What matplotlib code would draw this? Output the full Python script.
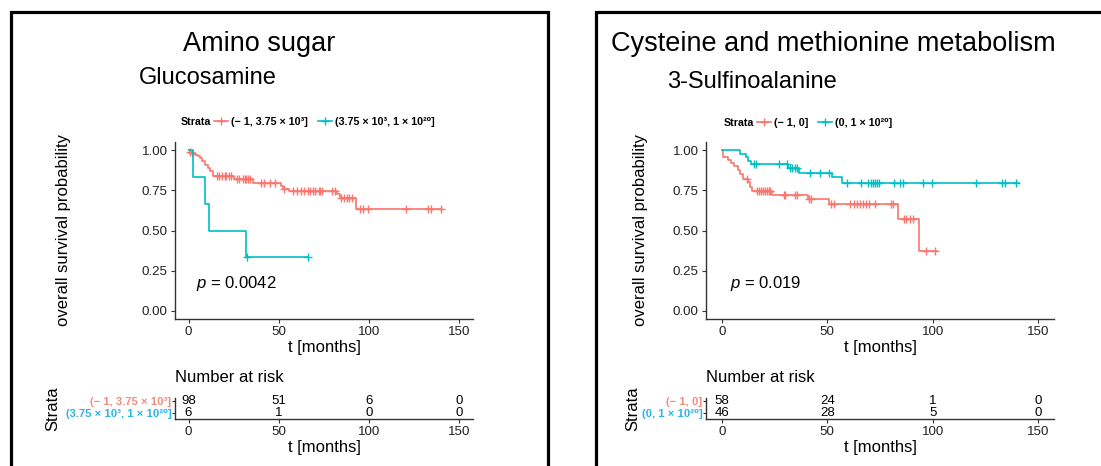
import matplotlib
matplotlib.use("Agg")
import matplotlib.pyplot as plt
import matplotlib.patches as mpatches
from matplotlib.lines import Line2D
import numpy as np

plt.rcParams['font.family'] = ['Liberation Sans', 'DejaVu Sans']
plt.rcParams['mathtext.fontset'] = 'custom'
plt.rcParams['mathtext.rm'] = 'Liberation Sans'
plt.rcParams['mathtext.it'] = 'Liberation Sans:italic'

W, H = 1101, 466

RED = '#F8766D'
TEAL = '#00BFC4'
RED_TXT = '#F28C7E'
BLUE_TXT = '#2BB4E6'

# ---- Amino sugar / Glucosamine
gl_labels = ['(\u2212 1, 3.75 \u00d7 10\u00b3]', '(3.75 \u00d7 10\u00b3, 1 \u00d7 10\u00b2\u2070]']
gl_lo_t = [0, 1, 2, 3.5, 5, 6.5, 7.5, 9, 10.5, 12, 13.5, 25, 35.5, 51, 52.5, 55.5, 82, 84, 92.5]
gl_lo_s = [1.0, 0.99, 0.98, 0.97, 0.96, 0.95, 0.93, 0.91, 0.89, 0.87, 0.84, 0.823, 0.798,
           0.777, 0.757, 0.745, 0.725, 0.705, 0.632]
gl_lo_end = 140
gl_lo_cens = [1, 2, 16, 17, 18.5, 20, 21, 22.5, 23.5, 27, 28, 30, 31, 32, 33, 34, 40, 42, 45, 48,
              53, 58, 60, 62, 64, 66, 67, 69, 70, 72, 73, 74, 79.5, 81, 84.5, 86, 87.5, 89, 90.5,
              95, 96.5, 99.5, 120.5, 132.5, 134.5, 140]
gl_hi_t = [0, 2.2, 9.2, 11.4, 31.7]
gl_hi_s = [1.0, 0.833, 0.667, 0.5, 0.333]
gl_hi_end = 66
gl_hi_cens = [32.5, 66]
gl_pval = '$p$ = 0.0042'
gl_risk_lo = [98, 51, 6, 0]
gl_risk_hi = [6, 1, 0, 0]

# ---- Cysteine and methionine metabolism / 3-Sulfinoalanine
su_labels = ['(\u2212 1, 0]', '(0, 1 \u00d7 10\u00b2\u2070]']
su_lo_t = [0, 0.5, 3, 4.5, 6, 7.5, 8.7, 10, 12.5, 13.5, 14.5, 23.8, 41, 51, 83.3, 93.3]
su_lo_s = [1.0, 0.957, 0.94, 0.92, 0.90, 0.875, 0.85, 0.82, 0.80, 0.77, 0.745, 0.72, 0.695,
           0.665, 0.569, 0.375]
su_lo_end = 102
su_lo_cens = [12, 16.5, 17.5, 18.5, 19.5, 20.5, 21.5, 22.5, 23, 29.3, 30, 34.8, 35.6, 41.5, 42.4,
              52, 53, 61, 62.5, 64, 65.5, 67, 68.5, 70, 72.5, 80, 81.4, 86.2, 87.5, 89, 90.8,
              97, 101.2]
su_hi_t = [0, 8.4, 11.5, 12.5, 14, 31.6, 36.8, 52.2, 57]
su_hi_s = [1.0, 0.978, 0.957, 0.935, 0.913, 0.888, 0.86, 0.83, 0.798]
su_hi_end = 141
su_hi_cens = [15.3, 16, 27, 30.8, 32.4, 33.5, 34.5, 35.5, 42, 46.6, 50.6, 59.3, 66, 69.5, 70.5,
              71.5, 72.5, 73.5, 74.4, 81.5, 84.5, 86, 95.5, 99.7, 120.7, 132.9, 134.5, 139.7]
su_pval = '$p$ = 0.019'
su_risk_lo = [58, 24, 1, 0]
su_risk_hi = [46, 28, 5, 0]

risk_times = [0, 50, 100, 150]


def px_rect(l, t, r, b):
    return [l / W, 1 - b / H, (r - l) / W, (b - t) / H]


def km(ax, t, s, end, cens, color):
    t = np.array(t, dtype=float)
    s = np.array(s, dtype=float)
    ax.step(np.append(t, end), np.append(s, s[-1]), where='post', color=color, lw=1.2)
    idx = np.searchsorted(t, cens, side='right') - 1
    ax.plot(cens, s[idx], ls='none', marker='+', ms=6, mew=1.0, color=color)


def style_axes(ax):
    for sp in ['top', 'right']:
        ax.spines[sp].set_visible(False)
    for sp in ['left', 'bottom']:
        ax.spines[sp].set_color('#333333')
        ax.spines[sp].set_linewidth(1.0)
    ax.tick_params(length=3, width=0.8, color='#333333', labelsize=9.6,
                   labelcolor='#222222', pad=2.2)


fig = plt.figure(figsize=(W / 100, H / 100), dpi=100, facecolor='white')

# panel frames
fig.patches.append(mpatches.Rectangle((11 / W, -0.1), (548 - 11) / W, 1.1 - 12 / H,
                                      transform=fig.transFigure, fill=False,
                                      ec='black', lw=2.3))
fig.patches.append(mpatches.Rectangle((596 / W, -0.1), (1130 - 596) / W, 1.1 - 12 / H,
                                      transform=fig.transFigure, fill=False,
                                      ec='black', lw=2.3))

specs = [
    dict(l=175, r=473, lo=(gl_lo_t, gl_lo_s, gl_lo_end, gl_lo_cens),
         hi=(gl_hi_t, gl_hi_s, gl_hi_end, gl_hi_cens), labels=gl_labels, pval=gl_pval,
         risk_lo=gl_risk_lo, risk_hi=gl_risk_hi, ylab_x=71, strata_x=60,
         title='Amino sugar', title_x=259, title_ha='center', sub='Glucosamine',
         sub_x=139, sub_y=78, leg_x=181, leg_y=122),
    dict(l=706, r=1054, lo=(su_lo_t, su_lo_s, su_lo_end, su_lo_cens),
         hi=(su_hi_t, su_hi_s, su_hi_end, su_hi_cens), labels=su_labels, pval=su_pval,
         risk_lo=su_risk_lo, risk_hi=su_risk_hi, ylab_x=648, strata_x=640,
         title='Cysteine and methionine metabolism', title_x=611, title_ha='left',
         sub='3-Sulfinoalanine', sub_x=667, sub_y=82, leg_x=724, leg_y=123),
]

for sp in specs:
    l, r = sp['l'], sp['r']
    ax = fig.add_axes(px_rect(l, 142, r, 319))
    km(ax, *sp['lo'], RED)
    km(ax, *sp['hi'], TEAL)
    ax.set_xlim(-7.5, 157.5)
    ax.set_ylim(-0.05, 1.05)
    ax.set_xticks(risk_times)
    ax.set_yticks([0, 0.25, 0.5, 0.75, 1.0])
    ax.set_yticklabels(['0.00', '0.25', '0.50', '0.75', '1.00'])
    style_axes(ax)
    ax.set_xlabel('t [months]', fontsize=12, labelpad=1)
    ax.set_ylabel('overall survival probability', fontsize=12)
    ax.yaxis.set_label_coords((sp['ylab_x'] - l) / (r - l), 0.5)
    ax.text(4, 0.17, sp['pval'], fontsize=12, ha='left', va='center')

    # titles
    fig.text(sp['title_x'] / W, 1 - 44 / H, sp['title'], fontsize=19.5,
             ha=sp['title_ha'], va='center')
    fig.text(sp['sub_x'] / W, 1 - sp['sub_y'] / H, sp['sub'], fontsize=17,
             ha='left', va='center')

    # legend
    fig.text(sp['leg_x'] / W, 1 - sp['leg_y'] / H, 'Strata', fontsize=7.7,
             fontweight='bold', ha='left', va='center')
    handles = [Line2D([], [], color=RED, lw=1.2, marker='+', ms=6, mew=1.0),
               Line2D([], [], color=TEAL, lw=1.2, marker='+', ms=6, mew=1.0)]
    fig.legend(handles, sp['labels'], loc='center left',
               bbox_to_anchor=((sp['leg_x'] + 33) / W, 1 - sp['leg_y'] / H),
               ncol=2, frameon=False, prop={'size': 7.7, 'weight': 'bold'},
               handlelength=1.3, handletextpad=0.3, columnspacing=0.9,
               borderpad=0, borderaxespad=0)

    # risk table
    fig.text(l / W, 1 - 378 / H, 'Number at risk', fontsize=12, ha='left', va='center')
    tb = fig.add_axes(px_rect(l, 398, r, 419))
    tb.set_xlim(-7.5, 157.5)
    tb.set_ylim(0.46, 2.21)
    for t, n in zip(risk_times, sp['risk_lo']):
        tb.text(t, 2, str(n), ha='center', va='center', fontsize=9.5)
    for t, n in zip(risk_times, sp['risk_hi']):
        tb.text(t, 1, str(n), ha='center', va='center', fontsize=9.5)
    tb.set_xticks(risk_times)
    tb.set_yticks([2, 1])
    tb.set_yticklabels(sp['labels'])
    style_axes(tb)
    for lab, c in zip(tb.get_yticklabels(), [RED_TXT, BLUE_TXT]):
        lab.set_color(c)
        lab.set_fontweight('bold')
        lab.set_fontsize(8.1)
    tb.tick_params(axis='y', length=2, pad=0.5)
    tb.set_xlabel('t [months]', fontsize=12, labelpad=1)
    tb.set_ylabel('Strata', fontsize=12)
    tb.yaxis.set_label_coords((sp['strata_x'] - l) / (r - l), 0.5)

fig.savefig('out.png', dpi=100, facecolor='white')
